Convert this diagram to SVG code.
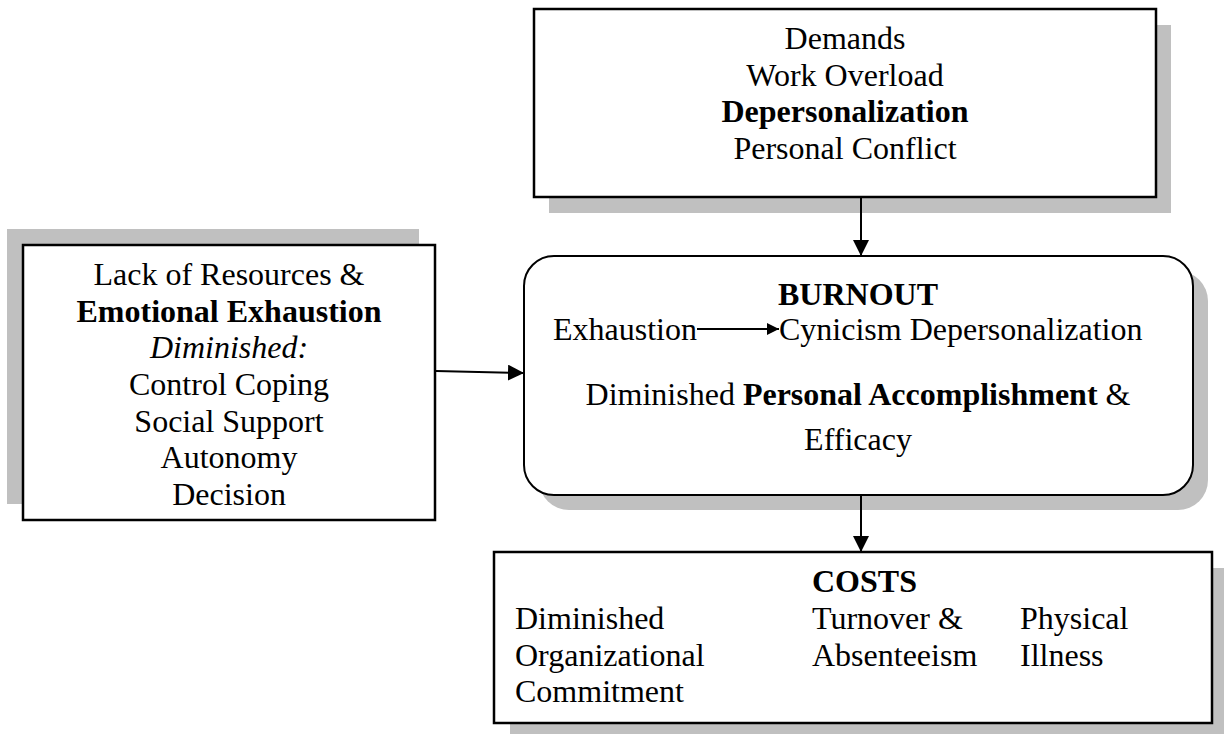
<svg xmlns="http://www.w3.org/2000/svg" width="1224" height="734" viewBox="0 0 1224 734">
<defs>
<style>
.t{font-family:"Liberation Serif","Times New Roman",serif;font-size:32px;fill:#000}
.c{text-anchor:middle}
.b{font-weight:bold}
.i{font-style:italic}
.box{fill:#fff;stroke:#000;stroke-width:2.5}
.sh{fill:#c0c0c0;stroke:none}
.ln{stroke:#000;stroke-width:2;fill:none}
</style>
<marker id="ah" viewBox="0 0 10 10" refX="10" refY="5" markerWidth="8" markerHeight="8" markerUnits="strokeWidth" orient="auto">
<path d="M0,0 L10,5 L0,10 Z" fill="#000"/>
</marker>
<marker id="ahs" viewBox="0 0 10 10" refX="10" refY="5" markerWidth="6" markerHeight="6" markerUnits="strokeWidth" orient="auto">
<path d="M0,0 L10,5 L0,10 Z" fill="#000"/>
</marker>
</defs>
<rect width="1224" height="734" fill="#fff"/>

<g id="demands">
<rect class="sh" x="549" y="25" width="622" height="188"/>
<rect class="box" x="534" y="9" width="622" height="188"/>
<text class="t c" x="845" y="49">Demands</text>
<text class="t c" x="845" y="86">Work Overload</text>
<text class="t c b" x="845" y="122">Depersonalization</text>
<text class="t c" x="845" y="159">Personal Conflict</text>
</g>

<g id="resources">
<rect class="sh" x="7" y="229" width="412" height="275"/>
<rect class="box" x="23" y="245" width="412" height="275"/>
<text class="t c" x="229" y="285">Lack of Resources &amp;</text>
<text class="t c b" x="229" y="321.5">Emotional Exhaustion</text>
<text class="t c i" x="229" y="358">Diminished:</text>
<text class="t c" x="229" y="395">Control Coping</text>
<text class="t c" x="229" y="431.5">Social Support</text>
<text class="t c" x="229" y="468">Autonomy</text>
<text class="t c" x="229" y="505">Decision</text>
</g>

<g id="burnout">
<rect class="sh" x="539" y="271" width="669" height="239" rx="30" ry="30"/>
<rect class="box" x="524" y="256" width="669" height="239" rx="30" ry="30" style="stroke-width:2"/>
<text class="t c b" x="858" y="305">BURNOUT</text>
<text class="t" x="553" y="340">Exhaustion</text>
<text class="t" x="779" y="340">Cynicism Depersonalization</text>
<line class="ln" x1="697" y1="329" x2="779" y2="329" marker-end="url(#ahs)"/>
<text class="t c" x="858" y="405">Diminished <tspan class="b">Personal Accomplishment</tspan> &amp;</text>
<text class="t c" x="858" y="450">Efficacy</text>
</g>

<g id="costs">
<rect class="sh" x="510" y="568" width="718" height="171"/>
<rect class="box" x="494" y="552" width="718" height="171"/>
<text class="t b" x="812" y="592">COSTS</text>
<text class="t" x="515" y="629">Diminished</text>
<text class="t" x="515" y="666">Organizational</text>
<text class="t" x="515" y="702">Commitment</text>
<text class="t" x="812" y="629">Turnover &amp;</text>
<text class="t" x="812" y="666">Absenteeism</text>
<text class="t" x="1020" y="629">Physical</text>
<text class="t" x="1020" y="666">Illness</text>
</g>

<g id="connectors">
<line class="ln" x1="861" y1="198" x2="861" y2="256" marker-end="url(#ah)"/>
<line class="ln" x1="436" y1="371" x2="524" y2="373" marker-end="url(#ah)"/>
<line class="ln" x1="861" y1="496" x2="861" y2="552" marker-end="url(#ah)"/>
</g>
</svg>
